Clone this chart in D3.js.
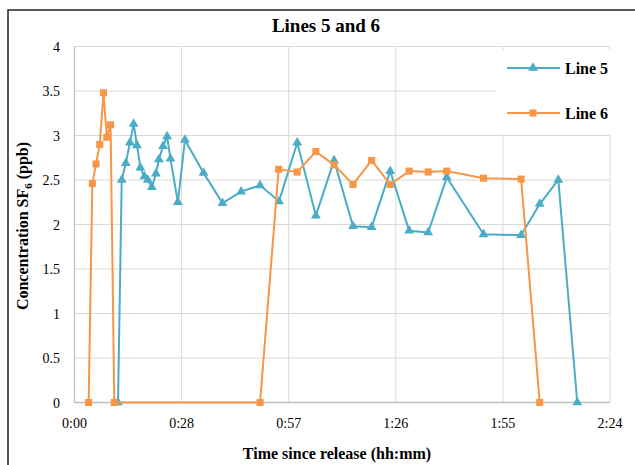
<!DOCTYPE html>
<html lang="en">
<head>
    <meta charset="UTF-8">
    <title>Lines 5 and 6</title>
    <script src="https://d3js.org/d3.v7.min.js"></script>
    <style>
        body {
            margin: 0;
            background: #fff;
        }
        svg text {
            font-family: "Liberation Serif", "Times New Roman", Times, "DejaVu Serif", serif;
        }
        .grid line {
            stroke: #d9d9d9;
            stroke-width: 1px;
        }
        .line {
            fill: none;
            stroke-width: 2px;
        }
    </style>
</head>
<body>
<svg id="chart" width="635" height="465"></svg>
<script>
    // Time since release in minutes, concentration SF6 in ppb
    const line5Time = [11.7, 12.7, 13.8, 14.9, 15.9, 16.8, 17.7, 18.8, 19.7, 20.8, 21.9, 22.7, 23.8, 24.9, 25.8, 27.8, 29.7,
        34.7, 39.8, 44.8, 49.9, 55.0, 59.9, 64.9, 69.8, 74.9, 79.9, 84.9, 90.0, 95.1, 100.1, 110.0, 120.1, 125.1, 130.1, 135.2];
    const line5Conc = [0, 2.50, 2.69, 2.92, 3.13, 2.89, 2.64, 2.54, 2.50, 2.42, 2.57, 2.73, 2.88, 2.99, 2.74, 2.25, 2.95,
        2.58, 2.24, 2.37, 2.44, 2.26, 2.92, 2.10, 2.72, 1.98, 1.97, 2.60, 1.93, 1.91, 2.53, 1.89, 1.88, 2.23, 2.50, 0];

    const line6Time = [3.8, 4.8, 5.8, 6.8, 7.8, 8.7, 9.7, 10.7,
        49.9, 54.9, 59.9, 64.9, 69.8, 74.9, 79.9, 84.9, 90.0, 95.1, 100.1, 110.0, 120.1, 125.1];
    const line6Conc = [0, 2.46, 2.68, 2.90, 3.48, 2.98, 3.12, 0,
        0, 2.62, 2.59, 2.82, 2.67, 2.45, 2.72, 2.45, 2.60, 2.59, 2.60, 2.52, 2.51, 0];

    const xTicks = [0, 28.8, 57.6, 86.4, 115.2, 144];
    const xTickLabels = ["0:00", "0:28", "0:57", "1:26", "1:55", "2:24"];
    const yTicks = [0, 0.5, 1, 1.5, 2, 2.5, 3, 3.5, 4];

    const seriesNames = ["Line 5", "Line 6"];
    const colors = ["#4bacc6", "#f79646"];

    const svg = d3.select("#chart");

    // outer chart frame (only top and left edges fall in view)
    svg.append("rect")
        .attr("x", 8).attr("y", 10)
        .attr("width", 640).attr("height", 470)
        .attr("fill", "#fff")
        .attr("stroke", "#222")
        .attr("stroke-width", 1.5);

    const plotLeft = 74.5, plotRight = 610, plotTop = 46.5, plotBottom = 402.5;

    const x = d3.scaleLinear().domain([0, 144]).range([plotLeft, plotRight]);
    const y = d3.scaleLinear().domain([0, 4]).range([plotBottom, plotTop]);

    // gridlines
    const grid = svg.append("g").attr("class", "grid");
    grid.selectAll(".h").data(yTicks.slice(1)).enter().append("line")
        .attr("x1", plotLeft).attr("x2", plotRight)
        .attr("y1", d => y(d)).attr("y2", d => y(d));
    grid.selectAll(".v").data(xTicks.slice(1)).enter().append("line")
        .attr("x1", d => x(d)).attr("x2", d => x(d))
        .attr("y1", plotTop).attr("y2", plotBottom);

    // axis lines
    svg.append("line").attr("x1", plotLeft).attr("x2", plotLeft).attr("y1", plotTop).attr("y2", plotBottom)
        .attr("stroke", "#bfbfbf").attr("stroke-width", 1.3);
    svg.append("line").attr("x1", plotLeft).attr("x2", plotRight).attr("y1", plotBottom).attr("y2", plotBottom)
        .attr("stroke", "#bfbfbf").attr("stroke-width", 1.3);

    // tick labels
    svg.selectAll(".ylab").data(yTicks).enter().append("text")
        .attr("x", 60).attr("y", d => y(d) + 5)
        .attr("text-anchor", "end")
        .attr("font-size", 14)
        .attr("fill", "#000")
        .text(d => d);

    svg.selectAll(".xlab").data(xTicks).enter().append("text")
        .attr("x", d => x(d)).attr("y", 428)
        .attr("text-anchor", "middle")
        .attr("font-size", 14)
        .attr("fill", "#000")
        .text((d, i) => xTickLabels[i]);

    // series
    const series = [
        { name: seriesNames[0], t: line5Time, v: line5Conc, color: colors[0], shape: d3.symbolTriangle },
        { name: seriesNames[1], t: line6Time, v: line6Conc, color: colors[1], shape: d3.symbolSquare }
    ];

    const line = d3.line()
        .x(d => x(d[0]))
        .y(d => y(d[1]));

    series.forEach(s => {
        const pts = s.t.map((t, i) => [t, s.v[i]]);
        svg.append("path")
            .datum(pts)
            .attr("class", "line")
            .attr("stroke", s.color)
            .attr("d", line);
        svg.selectAll(null).data(pts).enter().append("path")
            .attr("transform", d => `translate(${x(d[0])},${y(d[1])})`)
            .attr("d", d3.symbol().type(s.shape).size(s.shape === d3.symbolSquare ? 50 : 42))
            .attr("fill", s.color);
    });

    // legend (white box covers gridlines)
    svg.append("rect")
        .attr("x", 497).attr("y", 50)
        .attr("width", 115).attr("height", 84)
        .attr("fill", "#fff");

    series.forEach((s, i) => {
        const ly = 68 + i * 45;
        svg.append("line")
            .attr("x1", 507).attr("x2", 560)
            .attr("y1", ly).attr("y2", ly)
            .attr("stroke", s.color).attr("stroke-width", 2);
        svg.append("path")
            .attr("transform", `translate(533,${ly})`)
            .attr("d", d3.symbol().type(s.shape).size(s.shape === d3.symbolSquare ? 50 : 42))
            .attr("fill", s.color);
        svg.append("text")
            .attr("x", 565).attr("y", ly + 5.5)
            .attr("font-size", 16)
            .attr("font-weight", "bold")
            .text(s.name);
    });

    // title
    svg.append("text")
        .attr("x", 326).attr("y", 32)
        .attr("text-anchor", "middle")
        .attr("font-size", 19)
        .attr("font-weight", "bold")
        .text("Lines 5 and 6");

    // axis titles
    svg.append("text")
        .attr("x", 337).attr("y", 459)
        .attr("text-anchor", "middle")
        .attr("font-size", 16)
        .attr("font-weight", "bold")
        .text("Time since release (hh:mm)");

    const yTitle = svg.append("text")
        .attr("transform", "translate(28,226) rotate(-90)")
        .attr("text-anchor", "middle")
        .attr("font-size", 16)
        .attr("font-weight", "bold");
    yTitle.append("tspan").text("Concentration SF");
    yTitle.append("tspan").attr("font-size", 11).attr("dy", 4).text("6");
    yTitle.append("tspan").attr("dy", -4).text(" (ppb)");
</script>
</body>
</html>
